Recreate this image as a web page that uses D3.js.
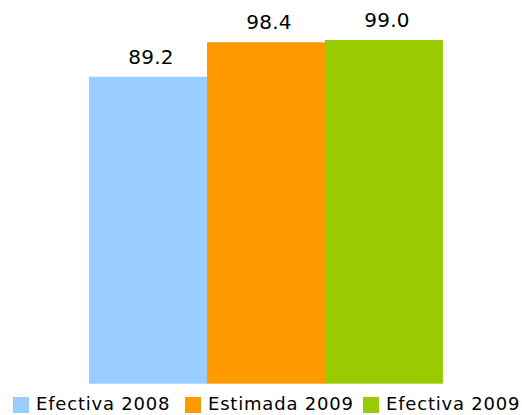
<!DOCTYPE html>
<html>
<head>
<meta charset="utf-8">
<script src="https://cdn.jsdelivr.net/npm/d3@7/dist/d3.min.js"></script>
<style>
  body { margin: 0; background: #fff; }
  text { font-family: "DejaVu Sans", sans-serif; fill: #000; }
</style>
</head>
<body>
<div id="chart"></div>
<script>
const categories = ['Efectiva 2008', 'Estimada 2009', 'Efectiva 2009'];
const values = [89.2, 98.4, 99.0];
const colors = ['#99ccff', '#ff9900', '#99cc00'];

const width = 522, height = 415;

const svg = d3.select('#chart').append('svg')
    .attr('width', width)
    .attr('height', height);

const xScale = d3.scaleBand()
    .domain(categories)
    .range([89, 443])
    .padding(0);

// value axis is not drawn; it does not start at zero in the original
const yScale = d3.scaleLinear()
    .domain([7.2, 99])
    .range([383.7, 40]);

const data = categories.map((c, i) => ({ key: c, value: values[i], color: colors[i] }));

svg.selectAll('.bar')
    .data(data)
    .join('rect')
    .attr('class', 'bar')
    .attr('x', d => xScale(d.key))
    .attr('width', xScale.bandwidth())
    .attr('y', d => yScale(d.value))
    .attr('height', d => yScale.range()[0] - yScale(d.value))
    .attr('fill', d => d.color);

svg.selectAll('.label')
    .data(data)
    .join('text')
    .attr('class', 'label')
    .attr('x', d => xScale(d.key) + xScale.bandwidth() / 2 + 3)
    .attr('y', d => yScale(d.value) - 13)
    .attr('text-anchor', 'middle')
    .style('font-size', '20px')
    .style('letter-spacing', '0.3px')
    .text(d => d.value.toFixed(1));

// legend
const legendX = [13, 185, 363];
const legend = svg.selectAll('.legend-item')
    .data(data)
    .join('g')
    .attr('class', 'legend-item')
    .attr('transform', (d, i) => `translate(${legendX[i]},397)`);

legend.append('rect')
    .attr('width', 16)
    .attr('height', 16)
    .attr('fill', d => d.color);

legend.append('text')
    .attr('x', 23)
    .attr('y', 12.5)
    .style('font-size', '18px')
    .style('letter-spacing', '0.8px')
    .text(d => d.key);
</script>
</body>
</html>
